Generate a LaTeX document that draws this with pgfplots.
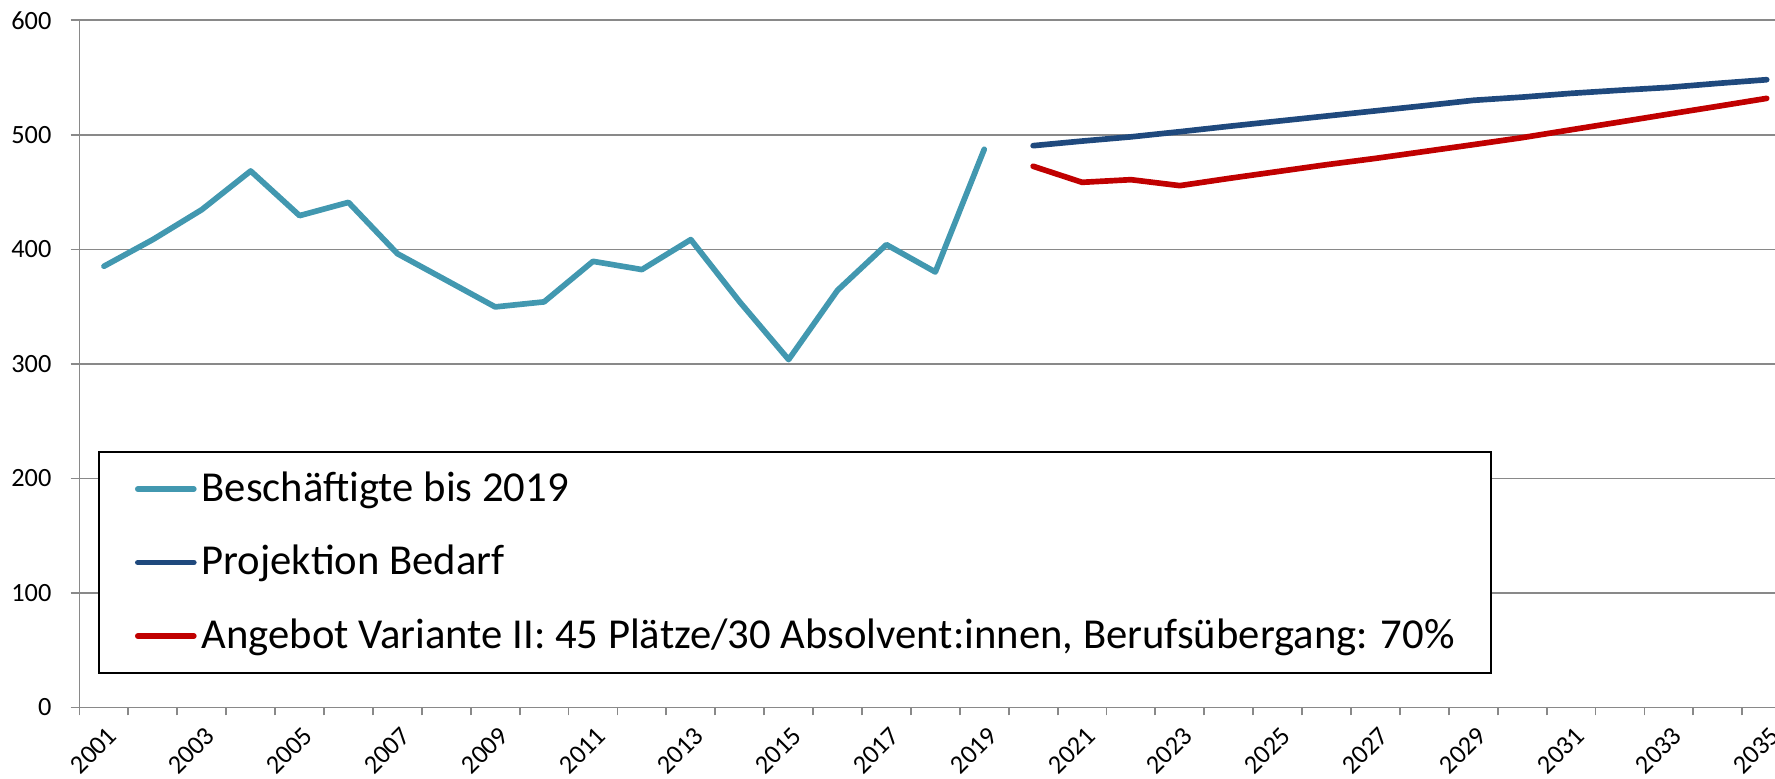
\documentclass[border=0pt]{standalone}
\usepackage{fontspec}
\setmainfont{Carlito}
\usepackage{pgfplots}
\pgfplotsset{compat=1.18}
\definecolor{cteal}{RGB}{66,152,176}
\definecolor{cblue}{RGB}{31,73,125}
\definecolor{cred}{RGB}{192,0,0}
\definecolor{cgrid}{RGB}{137,137,137}
\begin{document}
\begin{tikzpicture}
\begin{axis}[
  scale only axis,
  width=508.65pt, height=206.13pt,
  xmin=-0.5, xmax=34.17,
  ymin=0, ymax=600,
  ytick={0,100,...,600},
  xtick={0,2,...,34},
  xticklabels={2001,2003,2005,2007,2009,2011,2013,2015,2017,2019,2021,2023,2025,2027,2029,2031,2033,2035},
  minor xtick={-0.5,0.5,...,33.5},
  axis x line*=bottom, axis y line*=left,
  axis line style={cgrid, line width=0.55pt},
  tick align=outside,
  major tick length=2.64pt,
  minor tick length=2.4pt,
  major x tick style={draw=none},
  minor x tick style={cgrid, line width=0.55pt},
  ytick style={cgrid, line width=0.55pt},
  ymajorgrids,
  grid style={cgrid, line width=0.55pt},
  /pgf/number format/assume math mode=true,
  tick label style={font=\fontsize{7.9}{9}\selectfont, inner sep=0pt},
  yticklabel style={anchor=east, xshift=-5.6pt},
  xticklabel style={xshift=0.7pt, yshift=-2.5pt, rotate=45, anchor=north east},
  legend cell align=left,
  legend image code/.code={\draw[#1, line cap=round] (0pt,0pt) -- (16.8pt,0pt);},
  legend style={at={(rel axis cs:0.01091,0.3737)}, anchor=north west,
    draw=black, line width=0.6pt, fill=white,
    inner xsep=10.8pt, inner ysep=5.2pt, row sep=10.05pt,
    font=\fontsize{12.8}{14}\selectfont,
    nodes={inner sep=0pt, text height=9.6pt, text depth=2.4pt},
    /tikz/every odd column/.append style={column sep=1.5pt}},
  every axis plot/.append style={line width=1.7pt, line cap=round, line join=round},
]
\addplot[cteal] coordinates {
(0,385.3) (1,408.6) (2,434.7) (3,468.5) (4,429.5) (5,441.1) (6,396.3) (7,373.1)
(8,349.8) (9,354.2) (10,389.6) (11,382.4) (12,408.6) (13,354.2) (14,303.8)
(15,364.3) (16,404.2) (17,380.3) (18,487.4)};
\addlegendentry{Beschäftigte bis 2019}
\addplot[cblue] coordinates {
(19,490.6) (20,494.6) (21,498.3) (22,502.8) (23,507.5) (24,512) (25,516.5)
(26,521) (27,525.5) (28,530.2) (29,533) (30,536.3) (31,539) (32,541.5)
(33,545) (34,548.2)};
\addlegendentry{Projektion Bedarf}
\addplot[cred] coordinates {
(19,472.6) (20,458.6) (21,460.9) (22,455.7) (23,462) (24,468) (25,474)
(26,479.5) (27,485.5) (28,491.5) (29,497.6) (30,504.5) (31,511.3) (32,518.2)
(33,525) (34,531.9)};
\addlegendentry{Angebot Variante II: 45 Plätze/30 Absolvent:innen, Berufsübergang: 70\%}
\end{axis}
\pgfresetboundingbox
\path[use as bounding box] ([xshift=-23.85pt,yshift=-21.45pt]current axis.south west) rectangle ([yshift=6.12pt]current axis.north east);
\end{tikzpicture}
\end{document}
